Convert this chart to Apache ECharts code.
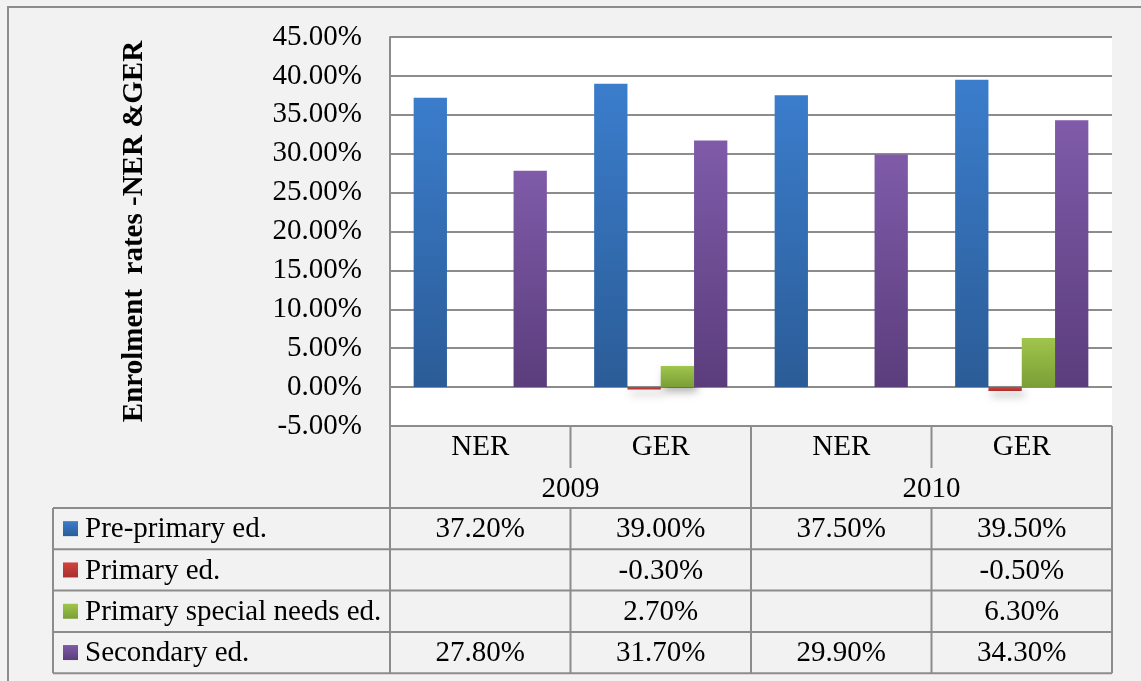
<!DOCTYPE html>
<html>
<head>
<meta charset="utf-8">
<script src="https://cdn.jsdelivr.net/npm/echarts@6/dist/echarts.min.js"></script>
<style>
  html, body { margin: 0; padding: 0; background: #f2f2f2; }
  #chart { width: 1141px; height: 681px; }
</style>
</head>
<body>
<div id="chart"></div>
<script>
// Enrolment rates by level of education, NER and GER, 2009-2010
const categories = ['NER', 'GER', 'NER', 'GER'];
const years = ['2009', '2010'];
const seriesNames = ['Pre-primary ed.', 'Primary ed.', 'Primary special needs ed.', 'Secondary ed.'];
const prePrimary = [37.2, 39.0, 37.5, 39.5];
const primary = [null, -0.3, null, -0.5];
const specialNeeds = [null, 2.7, null, 6.3];
const secondary = [27.8, 31.7, 29.9, 34.3];
const yMin = -5, yMax = 45, yStep = 5;
const yTitle = 'Enrolment  rates -NER &GER';

const SERIF = '"Liberation Serif", "Times New Roman", serif';
const FS = 29;
const LINE = '#8c8c8c';

const palette = [
  ['#3b7dcc', '#2b5c97'],
  ['#d0443f', '#a8302c'],
  ['#a0c54c', '#7b9e36'],
  ['#7f5ba9', '#5b3d7c']
];
const seriesData = [prePrimary, primary, specialNeeds, secondary];

function grad(c) {
  return new echarts.graphic.LinearGradient(0, 0, 0, 1, [
    { offset: 0, color: c[0] }, { offset: 1, color: c[1] }
  ]);
}

const grid = { left: 390, top: 37, width: 722, height: 389 };

const chart = echarts.init(document.getElementById('chart'), null, { renderer: 'canvas' });

chart.setOption({
  animation: false,
  backgroundColor: '#f2f2f2',
  grid: Object.assign({ show: true, backgroundColor: '#ffffff', borderWidth: 0, containLabel: false }, grid),
  xAxis: [
    {
      type: 'category', data: categories, position: 'bottom',
      axisLine: { show: false }, axisTick: { show: false },
      axisLabel: { margin: 21, verticalAlign: 'middle', color: '#000', fontFamily: SERIF, fontSize: FS }
    },
    {
      type: 'category', data: years, position: 'bottom',
      axisLine: { show: false }, axisTick: { show: false },
      axisLabel: { margin: 63, verticalAlign: 'middle', color: '#000', fontFamily: SERIF, fontSize: FS }
    }
  ],
  yAxis: {
    type: 'value', min: yMin, max: yMax, interval: yStep,
    name: yTitle, nameLocation: 'middle', nameRotate: 90, nameGap: 241,
    nameTextStyle: { fontFamily: SERIF, fontSize: 29, fontWeight: 'bold', color: '#000' },
    axisLine: { show: true, lineStyle: { color: LINE, width: 2 } },
    axisTick: { show: false },
    axisLabel: { margin: 28, color: '#000', fontFamily: SERIF, fontSize: FS,
      formatter: v => v.toFixed(2) + '%' },
    splitLine: { show: true, lineStyle: { color: LINE, width: 2 } }
  },
  series: seriesData.map((d, i) => ({
    name: seriesNames[i], type: 'bar', data: d, xAxisIndex: 0,
    barWidth: 33.3, barGap: '0%',
    itemStyle: {
      color: grad(palette[i]),
      shadowBlur: 8, shadowOffsetX: 3, shadowOffsetY: 5, shadowColor: 'rgba(0,0,0,0.3)'
    }
  }))
});

// Data table under the plot: lines, legend keys and value cells
const cx = categories.map((_, i) => chart.convertToPixel({ xAxisIndex: 0 }, i));
const band = cx[1] - cx[0];
const x0 = grid.left, x1 = grid.left + grid.width;
const yTop = grid.top + grid.height;   // 426
const yHead = 508, rowH = 41.3, keyX = 53;
const rowsY = [0, 1, 2, 3, 4].map(k => yHead + k * rowH);
const g = [];
function line(xa, ya, xb, yb) {
  g.push({ type: 'line', shape: { x1: xa, y1: ya, x2: xb, y2: yb }, style: { stroke: LINE, lineWidth: 2 }, z: 50 });
}
// outer frame of the chart area
g.push({ type: 'rect', shape: { x: 8, y: 7, width: 1200, height: 700 }, style: { fill: null, stroke: '#8c8c8c', lineWidth: 2 }, z: 0 });
line(x0, yTop, x1, yTop);
line(x0, grid.top, x0, rowsY[4]);
line(x1, yTop, x1, rowsY[4]);
rowsY.forEach(y => line(keyX, y, x1, y));
line(keyX, yHead, keyX, rowsY[4]);
const midX = (cx[1] + cx[2]) / 2;
line(midX, yTop, midX, rowsY[4]);
[0, 2].forEach(i => {
  const bx = cx[i] + band / 2;
  line(bx, yTop, bx, yTop + 42);
  line(bx, yHead, bx, rowsY[4]);
});
seriesNames.forEach((name, r) => {
  const yc = (rowsY[r] + rowsY[r + 1]) / 2;
  g.push({ type: 'rect', shape: { x: 63, y: yc - 7.5, width: 15, height: 15 }, style: { fill: grad(palette[r]) }, z: 60 });
  g.push({ type: 'text', x: 85, y: yc + 1, style: { text: name, font: FS + 'px ' + SERIF, fill: '#000', align: 'left', verticalAlign: 'middle' }, z: 60 });
  seriesData[r].forEach((v, c) => {
    if (v === null) return;
    g.push({ type: 'text', x: cx[c], y: yc + 1, style: { text: v.toFixed(2) + '%', font: FS + 'px ' + SERIF, fill: '#000', align: 'center', verticalAlign: 'middle' }, z: 60 });
  });
});
chart.setOption({ graphic: g });
</script>
</body>
</html>
